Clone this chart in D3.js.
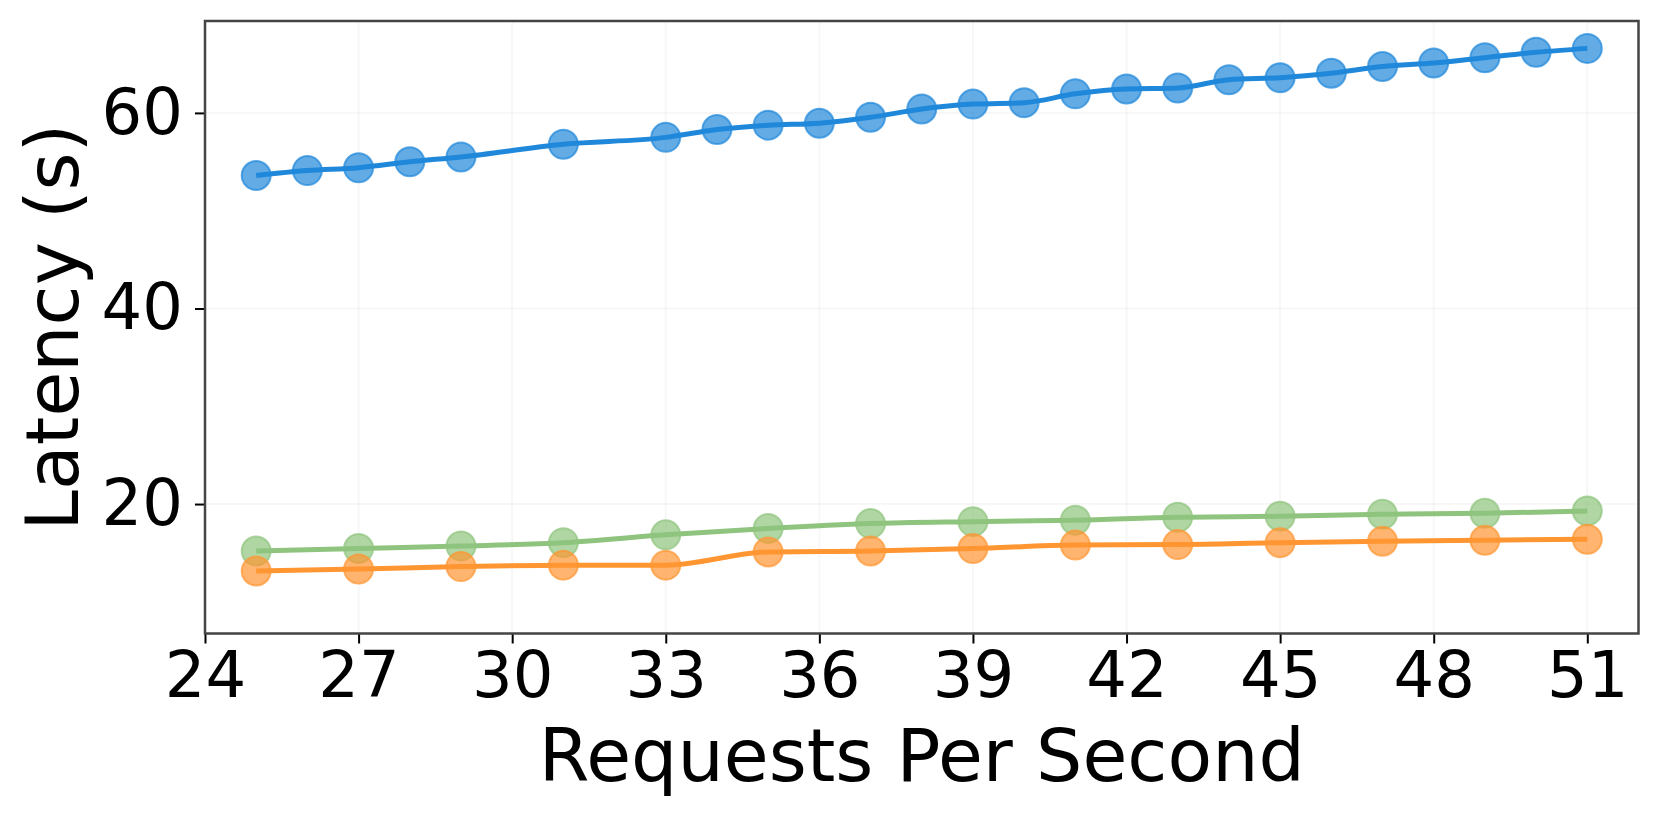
<!DOCTYPE html>
<html>
<head>
<meta charset="utf-8">
<script src="https://cdn.jsdelivr.net/npm/d3@7"></script>
<style>
  html, body { margin: 0; padding: 0; background: #fff; }
  svg { display: block; }
  text { font-family: "DejaVu Sans", sans-serif; fill: #000; }
</style>
</head>
<body>
<svg id="chart" width="1660" height="820"></svg>
<script>
// ---- Data ----
const blueX = [25, 26, 27, 28, 29, 31, 33, 34, 35, 36, 37, 38, 39, 40, 41, 42, 43, 44, 45, 46, 47, 48, 49, 50, 51];
const blueY = [53.6, 54.1, 54.4, 55.0, 55.5, 56.8, 57.5, 58.3, 58.75, 58.95, 59.55, 60.4, 60.9, 61.05, 61.95, 62.45, 62.55, 63.4, 63.6, 64.05, 64.75, 65.1, 65.65, 66.2, 66.6];
const pairX = [25, 27, 29, 31, 33, 35, 37, 39, 41, 43, 45, 47, 49, 51];
const greenY = [15.2, 15.45, 15.7, 16.05, 16.85, 17.5, 18.0, 18.2, 18.35, 18.65, 18.75, 18.95, 19.05, 19.3];
const orangeY = [13.15, 13.35, 13.6, 13.75, 13.75, 15.1, 15.2, 15.45, 15.8, 15.85, 16.05, 16.2, 16.3, 16.4];
const xTicks = [24, 27, 30, 33, 36, 39, 42, 45, 48, 51];
const yTicks = [20, 40, 60];
const xDomain = [24, 52];
const yDomain = [6.76, 69.4];
const xLabel = "Requests Per Second";
const yLabel = "Latency (s)";

const series = [
  { name: "blue", xs: blueX, ys: blueY, color: "#1F88DA" },
  { name: "green", xs: pairX, ys: greenY, color: "#8FC47E" },
  { name: "orange", xs: pairX, ys: orangeY, color: "#FF9632" }
];

// ---- Layout ----
const plot = { left: 205, right: 1638.5, top: 21, bottom: 633.5 };

const svg = d3.select("#chart");
const x = d3.scaleLinear().domain(xDomain).range([plot.left, plot.right]);
const y = d3.scaleLinear().domain(yDomain).range([plot.bottom, plot.top]);

// Grid
const grid = svg.append("g");
grid.selectAll("line.gx").data(xTicks).enter().append("line")
  .attr("x1", d => x(d)).attr("x2", d => x(d))
  .attr("y1", plot.top).attr("y2", plot.bottom)
  .attr("stroke", "#b0b0b0").attr("stroke-opacity", 0.1).attr("stroke-width", 2);
grid.selectAll("line.gy").data(yTicks).enter().append("line")
  .attr("x1", plot.left).attr("x2", plot.right)
  .attr("y1", d => y(d)).attr("y2", d => y(d))
  .attr("stroke", "#b0b0b0").attr("stroke-opacity", 0.1).attr("stroke-width", 2);

// Series
const line = d3.line().x(d => x(d[0])).y(d => y(d[1])).curve(d3.curveMonotoneX);
series.forEach(s => {
  const pts = s.xs.map((v, i) => [v, s.ys[i]]);
  const g = svg.append("g");
  g.selectAll("circle").data(pts).enter().append("circle")
    .attr("cx", d => x(d[0])).attr("cy", d => y(d[1]))
    .attr("r", 14.5)
    .attr("fill", s.color).attr("fill-opacity", 0.7)
    .attr("stroke", s.color).attr("stroke-opacity", 0.7).attr("stroke-width", 2);
  g.append("path").datum(pts)
    .attr("d", line)
    .attr("fill", "none").attr("stroke", s.color).attr("stroke-width", 5);
});

// Axes
const xAxis = d3.axisBottom(x).tickValues(xTicks).tickSize(10).tickPadding(8).tickFormat(d3.format("d"));
const yAxis = d3.axisLeft(y).tickValues(yTicks).tickSize(10).tickPadding(12).tickFormat(d3.format("d"));

const gx = svg.append("g").attr("transform", `translate(0,${plot.bottom})`).call(xAxis);
gx.select(".domain").remove();
gx.selectAll(".tick line").attr("stroke", "#000").attr("stroke-width", 2);
gx.selectAll(".tick text").attr("font-size", 64).attr("font-family", "DejaVu Sans").attr("fill", "#000");

const gy = svg.append("g").attr("transform", `translate(${plot.left},0)`).call(yAxis);
gy.select(".domain").remove();
gy.selectAll(".tick line").attr("stroke", "#000").attr("stroke-width", 2);
gy.selectAll(".tick text").attr("font-size", 64).attr("font-family", "DejaVu Sans").attr("fill", "#000");

// Frame
svg.append("rect")
  .attr("x", plot.left).attr("y", plot.top)
  .attr("width", plot.right - plot.left).attr("height", plot.bottom - plot.top)
  .attr("fill", "none").attr("stroke", "#444").attr("stroke-width", 2.5);

// Axis labels
svg.append("text")
  .attr("x", (plot.left + plot.right) / 2).attr("y", 781)
  .attr("text-anchor", "middle").attr("font-size", 73)
  .text(xLabel);
svg.append("text")
  .attr("transform", `translate(78,${(plot.top + plot.bottom) / 2}) rotate(-90)`)
  .attr("text-anchor", "middle").attr("font-size", 73)
  .text(yLabel);
</script>
</body>
</html>
